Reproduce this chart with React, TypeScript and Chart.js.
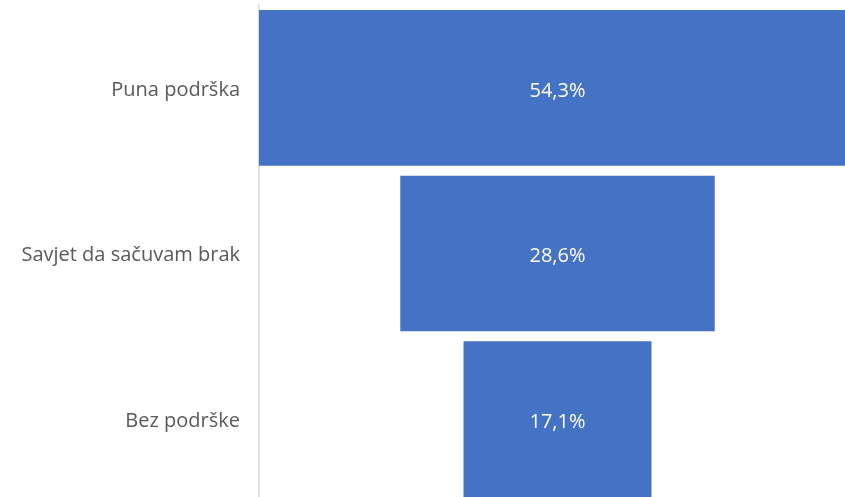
import { useRef, useEffect } from "react";
import { Chart, registerables } from "chart.js";
import type { Plugin } from "chart.js";

Chart.register(...registerables);

const categories = ["Puna podrška", "Savjet da sačuvam brak", "Bez podrške"];
const shares = [54.3, 28.6, 17.1];

const BAR_COLOR = "#4472C4";
const TEXT_COLOR = "#595959";
const FONT = "'Open Sans', sans-serif";

// funnel: each bar is centred on the widest one
const maxShare = Math.max(...shares);
const funnelData = shares.map((v) => [(maxShare - v) / 2, (maxShare + v) / 2]);

const fmt = (v: number) => `${v.toFixed(1).replace(".", ",")}%`;

const barLabels: Plugin<"bar"> = {
  id: "barLabels",
  afterDatasetsDraw(chart) {
    const { ctx } = chart;
    const meta = chart.getDatasetMeta(0);
    ctx.save();
    ctx.fillStyle = "#ffffff";
    ctx.font = `20px ${FONT}`;
    ctx.textAlign = "center";
    ctx.textBaseline = "middle";
    meta.data.forEach((bar, i) => {
      const { x, y, base } = bar.getProps(["x", "y", "base"], true) as any;
      ctx.fillText(fmt(shares[i]), (x + base) / 2, y + 3);
    });
    ctx.restore();
  },
};

export default function App() {
  const canvasRef = useRef<HTMLCanvasElement>(null);

  useEffect(() => {
    if (!canvasRef.current) return;
    const chart = new Chart(canvasRef.current, {
      type: "bar",
      data: {
        labels: categories,
        datasets: [
          {
            data: funnelData as any,
            backgroundColor: BAR_COLOR,
            borderWidth: 0,
            categoryPercentage: 0.94,
            barPercentage: 1,
          },
        ],
      },
      options: {
        indexAxis: "y",
        animation: false,
        responsive: false,
        devicePixelRatio: 1,
        layout: { padding: { top: 5, bottom: 0, left: 0, right: 0 } },
        plugins: {
          legend: { display: false },
          tooltip: { enabled: false },
        },
        scales: {
          x: {
            display: false,
            min: 0,
            max: maxShare,
          },
          y: {
            grid: { display: false, drawTicks: false },
            border: { display: true, color: "#D9D9D9", width: 1.5 },
            ticks: {
              color: TEXT_COLOR,
              padding: 19,
              labelOffset: 2,
              font: { family: FONT, size: 20 },
            },
            afterFit: (scale: any) => {
              scale.width = 259;
              scale.paddingTop = 0;
              scale.paddingBottom = 0;
            },
          },
        },
      },
      plugins: [barLabels],
    });
    return () => chart.destroy();
  }, []);

  return (
    <div
      style={{
        position: "absolute",
        left: 0,
        top: 0,
        width: 845,
        height: 497,
        overflow: "hidden",
        background: "#ffffff",
      }}
    >
      <canvas ref={canvasRef} width={856} height={502} />
    </div>
  );
}
